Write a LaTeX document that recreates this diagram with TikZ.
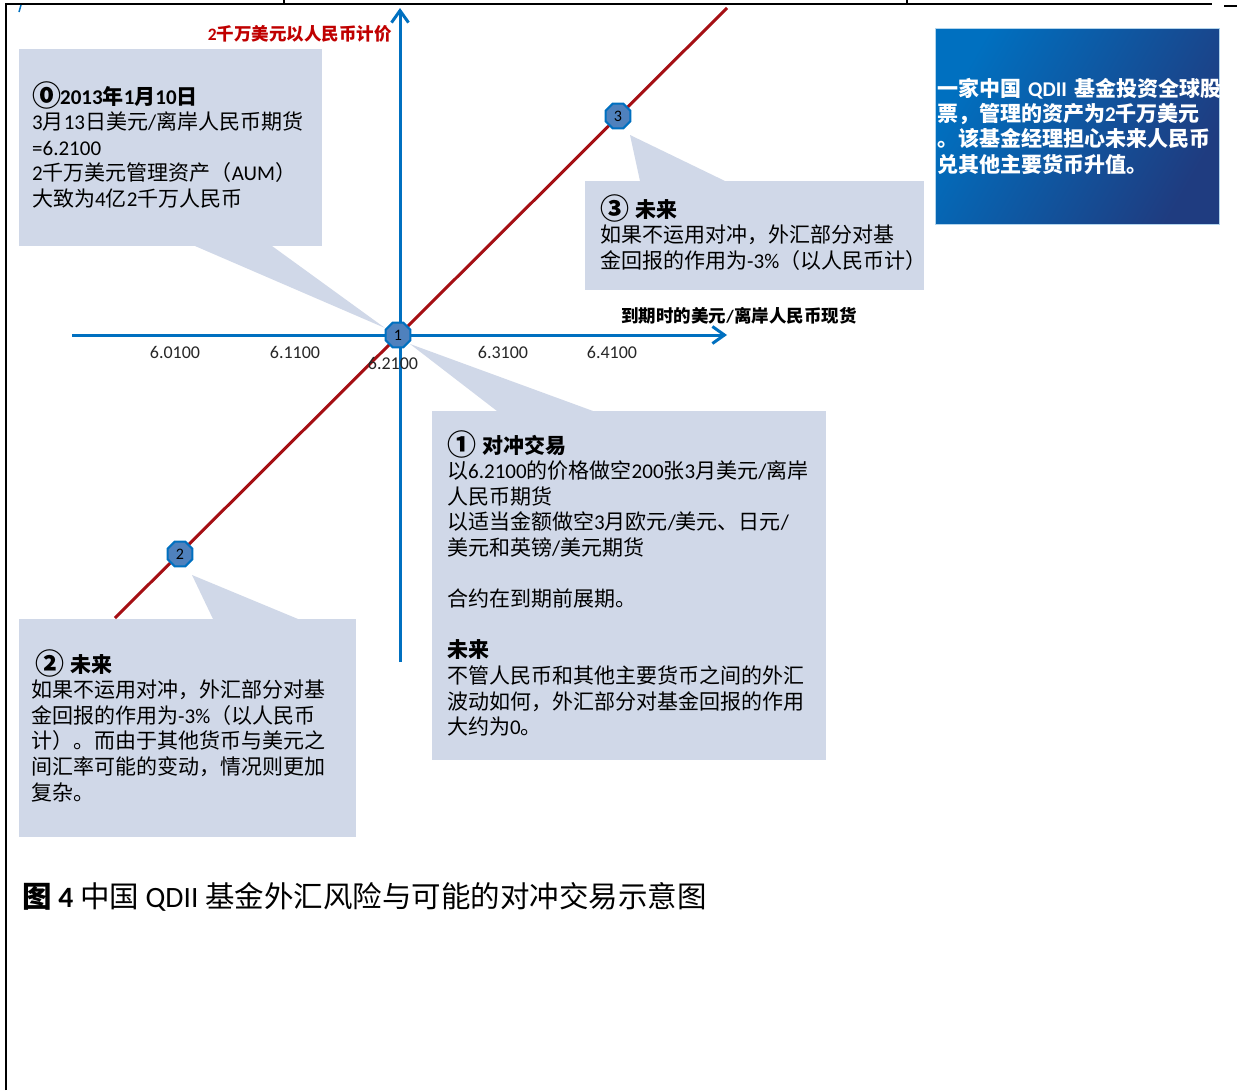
\documentclass[tikz,border=0pt]{standalone}
\usepackage{fontspec}
\setmainfont{Noto Sans CJK SC}
\newfontfamily\latfont{Carlito}
\newcommand{\latn}[1]{{\latfont #1}}
\newcommand{\circd}[1]{\raisebox{-2.8pt}{\fontsize{29}{25}\selectfont #1}\hspace{-1pt}}
\usetikzlibrary{arrows.meta,shapes.geometric}
\definecolor{axisblue}{RGB}{0,112,192}
\definecolor{redline}{RGB}{165,15,20}
\definecolor{callfill}{RGB}{208,216,232}
\definecolor{markfill}{RGB}{79,129,189}
\definecolor{labelred}{RGB}{192,0,0}
\definecolor{boxleft}{RGB}{0,112,192}
\definecolor{boxright}{RGB}{31,60,128}
\definecolor{ticktext}{RGB}{38,38,38}
\begin{document}
\begin{tikzpicture}[x=1pt,y=-1pt,
  frameline/.style={black,line width=2pt},
  calloutbox/.style={fill=callfill,draw=none,anchor=north west,inner sep=0pt},
  pointer/.style={fill=callfill,draw=none},
  calltext/.style={anchor=base west,inner sep=0pt,text width=420pt,align=left,
    font=\fontsize{21}{25.6}\selectfont,text=black},
  axisline/.style={axisblue,line width=3pt,-{Straight Barb[length=12pt,width=17pt]}},
  payoff/.style={redline,line width=3pt},
  marker/.style={regular polygon,regular polygon sides=8,minimum size=27pt,inner sep=0pt,
    fill=markfill,draw=axisblue,line width=2pt,font=\latfont\fontsize{16}{16}\selectfont,text=black},
  ticklabel/.style={inner sep=0pt,font=\latfont\fontsize{18}{18}\selectfont,text=ticktext},
  axislabel/.style={inner sep=0pt,font=\bfseries\fontsize{17.5}{18}\selectfont}
]
\useasboundingbox (0,0) rectangle (1237,1090);
\fill[white] (0,0) rectangle (1237,1090);

% frame
\coordinate (f1) at (6,1090);
\coordinate (f2) at (6,4);
\coordinate (f3) at (1212,4);
\coordinate (t1a) at (284,0);
\coordinate (t1b) at (284,4);
\coordinate (t2a) at (907,0);
\coordinate (t2b) at (907,4);
\coordinate (r1) at (1224,6);
\coordinate (r2) at (1237,6);
\draw[frameline] (f1) -- (f2) -- (f3);
\draw[frameline] (t1a) -- (t1b);
\draw[frameline] (t2a) -- (t2b);
\draw[frameline] (r1) -- (r2);
\coordinate (bm1) at (21,5);
\coordinate (bm2) at (19,12);
\draw[axisblue,line width=1.5pt] (bm1) -- (bm2);

% callout 0
\node[calloutbox,minimum width=303pt,minimum height=197pt] (c0) at (19,49) {};
\coordinate (c0a) at (195,246);
\coordinate (c0b) at (272,246);
\coordinate (tip0) at (385,328);
\fill[pointer] (c0a) -- (tip0) -- (c0b) -- cycle;
% callout 3
\node[calloutbox,minimum width=339pt,minimum height=109pt] (c3) at (585,181) {};
\coordinate (c3a) at (640,181);
\coordinate (c3b) at (725,181);
\coordinate (tip3) at (630,135);
\fill[pointer] (c3a) -- (tip3) -- (c3b) -- cycle;
% callout 1
\node[calloutbox,minimum width=394pt,minimum height=349pt] (c1) at (432,411) {};
\coordinate (c1a) at (497,411);
\coordinate (c1b) at (593,411);
\coordinate (tip1) at (410,344);
\fill[pointer] (c1a) -- (tip1) -- (c1b) -- cycle;
% callout 2
\node[calloutbox,minimum width=337pt,minimum height=218pt] (c2) at (19,619) {};
\coordinate (c2a) at (213,619);
\coordinate (c2b) at (298,619);
\coordinate (tip2) at (192,575);
\fill[pointer] (c2a) -- (tip2) -- (c2b) -- cycle;

% blue info box
\shade[left color=boxleft,right color=boxright,shading angle=60] (935,28) rectangle (1219,224);
\draw[white!70!boxleft,line width=0.8pt] (935,28) rectangle (1219,224);
\node[calltext,text=white,font=\bfseries\fontsize{21}{25.4}\selectfont] (info) at (937,96)
{一家中国\latn{ QDII }基金投资全球股\\
票，管理的资产为\latn{2}千万美元\\
。该基金经理担心未来人民币\\
兑其他主要货币升值。};

% axes
\coordinate (yb) at (400,662);
\coordinate (yt) at (400,8);
\coordinate (xl) at (72,335);
\coordinate (xr) at (727,335);
\draw[axisline] (yb) -- (yt);
\draw[axisline] (xl) -- (xr);
% payoff line
\coordinate (pl) at (115,618);
\coordinate (pu) at (727,8);
\draw[payoff] (pl) -- (pu);

% tick labels
\node[ticklabel] (k1) at (175,352) {6.0100};
\node[ticklabel] (k2) at (295,352) {6.1100};
\node[ticklabel] (k3) at (393,363) {6.2100};
\node[ticklabel] (k4) at (503,352) {6.3100};
\node[ticklabel] (k5) at (612,352) {6.4100};

% axis labels
\node[axislabel,text=labelred,anchor=east] (ylab) at (392,34) {\latn{2}千万美元以人民币计价};
\node[axislabel,text=black] (xlab) at (739,316) {到期时的美元\latn{/}离岸人民币现货};

% markers
\node[marker] (m1) at (398,335) {1};
\node[marker] (m3) at (618,116) {3};
\node[marker] (m2) at (180,554) {2};

% callout texts
\node[calltext] (t0) at (32,104)
{{\bfseries \circd{⓪}\latn{2013}年\latn{1}月\latn{10}日}\\
\latn{3}月\latn{13}日美元\latn{/}离岸人民币期货\\
\latn{=6.2100}\\
\latn{2}千万美元管理资产（\latn{AUM}）\\
大致为\latn{4}亿\latn{2}千万人民币};

\node[calltext] (t3) at (600,217)
{{\bfseries \circd{③} 未来}\\
如果不运用对冲，外汇部分对基\\
金回报的作用为\latn{-3\%}（以人民币计）};

\node[calltext] (t1) at (447,453)
{{\bfseries \circd{①} 对冲交易}\\
以\latn{6.2100}的价格做空\latn{200}张\latn{3}月美元\latn{/}离岸\\
人民币期货\\
以适当金额做空\latn{3}月欧元\latn{/}美元、日元\latn{/}\\
美元和英镑\latn{/}美元期货\\[25.6pt]
合约在到期前展期。\\[25.6pt]
{\bfseries 未来}\\
不管人民币和其他主要货币之间的外汇\\
波动如何，外汇部分对基金回报的作用\\
大约为\latn{0}。};

\node[calltext] (t2) at (31,672)
{\hspace*{4pt}{\bfseries \circd{②} 未来}\\
如果不运用对冲，外汇部分对基\\
金回报的作用为\latn{-3\%}（以人民币\\
计）。而由于其他货币与美元之\\
间汇率可能的变动，情况则更加\\
复杂。};

% caption
\node[anchor=west,inner sep=0pt,font=\fontsize{29.5}{31}\selectfont] (cap) at (22,897)
{{\bfseries 图 \latn{4}} 中国 \latn{QDII} 基金外汇风险与可能的对冲交易示意图};
\end{tikzpicture}
\end{document}
